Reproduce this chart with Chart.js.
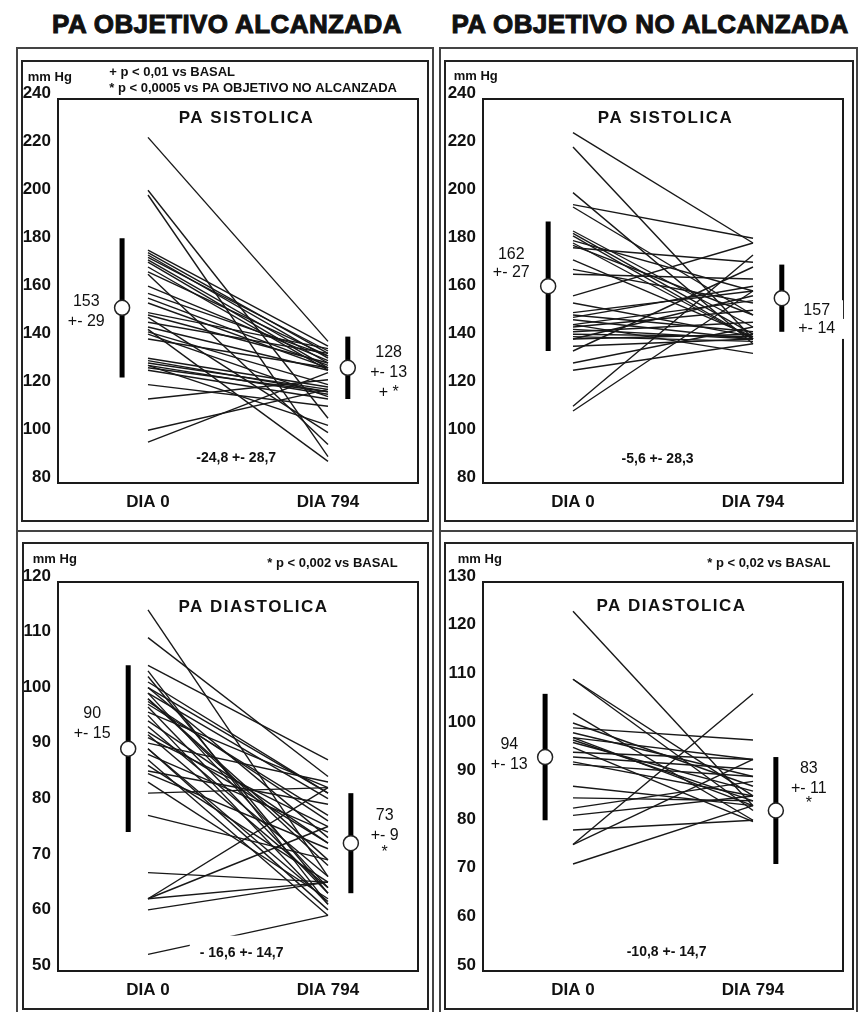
<!DOCTYPE html>
<html>
<head>
<meta charset="utf-8">
<script src="https://cdn.jsdelivr.net/npm/chart.js@4"></script>
<style>
  body { margin: 0; background: #fff; width: 862px; height: 1012px; position: relative; overflow: hidden;
         font-family: "Liberation Sans", Arial, sans-serif; }
  .head { position: absolute; top: 9px; font-weight: bold; font-size: 26px; line-height: 30px; color: #111;
          letter-spacing: 0.4px; -webkit-text-stroke: 1px #111; white-space: nowrap; transform: translateX(-50%); }
  .outer { position: absolute; box-sizing: border-box; border: 2px solid #444; }
  .inner { position: absolute; box-sizing: border-box; border: 2px solid #222; }
  canvas { display: block; }
</style>
</head>
<body>
<div class="head" style="left:227px">PA OBJETIVO ALCANZADA</div>
<div class="head" style="left:650px">PA OBJETIVO NO ALCANZADA</div>

<div class="outer" style="left:16px;top:47px;width:418px;height:485px"></div>
<div class="outer" style="left:16px;top:530px;width:418px;height:490px"></div>
<div class="outer" style="left:439px;top:47px;width:419px;height:485px"></div>
<div class="outer" style="left:439px;top:530px;width:419px;height:490px"></div>

<div class="inner" style="left:21px;top:60px;width:408px;height:462px"><canvas id="c1" width="404" height="458"></canvas></div>
<div class="inner" style="left:444px;top:60px;width:410px;height:462px"><canvas id="c2" width="406" height="458"></canvas></div>
<div class="inner" style="left:22px;top:542px;width:407px;height:468px"><canvas id="c3" width="403" height="464"></canvas></div>
<div class="inner" style="left:444px;top:542px;width:410px;height:468px"><canvas id="c4" width="406" height="464"></canvas></div>

<script>
// tick labels
var dayLabels = ["DIA 0", "DIA 794"];
var sysTicks = [240, 220, 200, 180, 160, 140, 120, 100, 80];
var diaOkTicks = [120, 110, 100, 90, 80, 70, 60, 50];
var diaNoTicks = [130, 120, 110, 100, 90, 80, 70, 60, 50];

// PA sistolica, objetivo alcanzada (one value per patient)
var sysOkDia0 = [224, 202, 200, 177, 176, 175, 174, 173, 172, 170, 168, 167, 162, 159, 157, 155, 151, 150,
                 149, 147, 145, 144, 143, 140, 132, 131, 130, 129, 128, 127, 121, 115, 102, 97, 129, 142];
var sysOkDia794 = [139, 107, 91, 137, 134, 132, 135, 130, 128, 127, 133, 96, 131, 133, 129, 128, 136, 130,
                   101, 134, 127, 89, 121, 128, 120, 118, 119, 117, 118, 115, 112, 123, 119, 126, 104, 116];
var sysOkMean = [153, 128];
var sysOkSd = [29, 13];

// PA sistolica, objetivo no alcanzada
var sysNoDia0 = [226, 220, 201, 196, 195, 185, 184, 183, 181, 180, 179, 178, 173, 169, 167, 158, 151, 150,
                 149, 148, 146, 145, 144, 143, 142, 141, 140, 140, 137, 135, 130, 127, 112, 110, 146, 155];
var sysNoDia794 = [180, 140, 138, 182, 150, 145, 142, 140, 160, 140, 150, 172, 141, 155, 165, 180, 160, 143,
                   162, 140, 156, 152, 140, 147, 141, 139, 158, 142, 140, 170, 145, 138, 175, 160, 134, 141];
var sysNoMean = [162, 157];
var sysNoSd = [27, 14];

// PA diastolica, objetivo alcanzada
var diaOkDia0 = [115, 110, 105, 104, 102, 101, 100, 99, 98, 97.5, 96.6, 93, 92, 91, 90, 89, 87, 86, 85.5, 84,
                 82, 78, 67.7, 63, 63, 61, 53, 100, 96, 94, 98.5, 103, 92.5, 88, 101, 95, 99, 90, 63];
var diaOkDia794 = [67, 85, 88, 62, 82, 74, 65, 70, 78, 64, 83, 73, 76, 84, 61, 75, 66, 80, 72, 63,
                   83, 70, 66, 83, 76, 66, 60, 81, 62, 67, 77, 64, 65, 60, 82, 73, 69, 62.5, 66];
var diaOkMean = [90, 73];
var diaOkSd = [15, 9];

// PA diastolica, objetivo no alcanzada
var diaNoDia0 = [124, 110, 110, 103, 101, 100, 99, 98, 97.5, 97, 98, 95, 94, 93, 88, 85.6, 83.5, 82, 79, 76, 76, 72, 96, 92.5];
var diaNoDia794 = [84, 86, 83, 81, 88, 97.5, 90, 84, 85, 87, 93.5, 93.5, 91.5, 86, 84, 85, 89, 86, 81, 107, 93.5, 84, 80.7, 90];
var diaNoMean = [94, 83];
var diaNoSd = [13, 11];

var FONT = '"Liberation Sans", Arial, sans-serif';

// box around the plot area + text notes placed in data units
Chart.register({
  id: "boxNotes",
  beforeDatasetsDraw: function (chart) {
    var a = chart.chartArea, ctx = chart.ctx;
    ctx.save();
    ctx.lineWidth = 2;
    ctx.strokeStyle = "#1a1a1a";
    ctx.strokeRect(a.left, a.top, a.right - a.left, a.bottom - a.top);
    ctx.restore();
  },
  afterDraw: function (chart, args, opts) {
    var ctx = chart.ctx, xs = chart.scales.x, ys = chart.scales.y;
    (opts.items || []).forEach(function (n) {
      var px = xs.getPixelForValue(n.x), py = ys.getPixelForValue(n.y);
      ctx.save();
      ctx.font = n.font || "15px " + FONT;
      if (n.spacing && "letterSpacing" in ctx) ctx.letterSpacing = n.spacing;
      ctx.textAlign = n.align || "center";
      ctx.textBaseline = "middle";
      if (n.bg) {
        var w = ctx.measureText(n.t).width;
        ctx.fillStyle = "#fff";
        ctx.fillRect(px - w / 2 - n.bg[0], py - n.bg[1], w + 2 * n.bg[0], 2 * n.bg[1]);
      }
      ctx.fillStyle = "#111";
      ctx.fillText(n.t, px, py);
      ctx.restore();
    });
  }
});

function makePanel(p) {
  var sets = [];
  for (var i = 0; i < p.d0.length; i++) {
    sets.push({
      data: [{ x: 0, y: p.d0[i] }, { x: 1, y: p.d1[i] }],
      borderColor: "#181818", borderWidth: 1.4, pointRadius: 0, order: 3
    });
  }
  for (var k = 0; k < 2; k++) {
    var mx = p.markX[k];
    sets.push({
      data: [{ x: mx, y: p.mean[k] - p.sd[k] }, { x: mx, y: p.mean[k] + p.sd[k] }],
      borderColor: "#000", borderWidth: 5, borderCapStyle: "butt", pointRadius: 0, order: 2
    });
    sets.push({
      data: [{ x: mx, y: p.mean[k] }], showLine: false,
      pointRadius: 7.5, pointBackgroundColor: "#fff", pointBorderColor: "#222", pointBorderWidth: 1.5, order: 1
    });
  }
  var ticks = p.ticks;
  new Chart(document.getElementById(p.id), {
    type: "line",
    data: { datasets: sets },
    options: {
      responsive: false,
      animation: false,
      events: [],
      layout: { padding: { top: p.padTop, right: p.padRight, left: 0, bottom: 0 } },
      plugins: { legend: { display: false }, tooltip: { enabled: false }, boxNotes: { items: p.notes } },
      scales: {
        x: {
          type: "linear", min: -0.5, max: 1.5,
          afterBuildTicks: function (s) { s.ticks = [{ value: 0 }, { value: 1 }]; },
          afterFit: function (s) { s.height = p.xH; },
          grid: { display: false, drawTicks: false }, border: { display: false },
          ticks: {
            padding: 9, color: "#111", maxRotation: 0,
            font: { family: FONT, size: 17, weight: "bold" },
            callback: function (v) { return dayLabels[v]; }
          }
        },
        y: {
          type: "linear", min: ticks[ticks.length - 1], max: ticks[0],
          afterBuildTicks: function (s) { s.ticks = ticks.map(function (v) { return { value: v }; }); },
          afterFit: function (s) { s.width = p.yW; },
          grid: { display: false, drawTicks: false }, border: { display: false },
          ticks: {
            padding: 7, color: "#111",
            font: { family: FONT, size: 17, weight: "bold", lineHeight: 0.7 },
            callback: function (v) { return [String(v), ""]; }
          }
        }
      }
    }
  });
}

var small = "bold 13px " + FONT;
var title = "bold 17px " + FONT;
var meanF = "16px " + FONT;
var diffF = "bold 14px " + FONT;

makePanel({
  id: "c1", d0: sysOkDia0, d1: sysOkDia794, mean: sysOkMean, sd: sysOkSd, ticks: sysTicks,
  markX: [-0.144, 1.11], padTop: 37, padRight: 6, yW: 35, xH: 37,
  notes: [
    { t: "PA SISTOLICA", x: 0.547, y: 232, font: title, spacing: "1.5px" },
    { t: "mm Hg", x: -0.668, y: 248.8, font: small, align: "left" },
    { t: "+ p < 0,01 vs BASAL", x: -0.215, y: 251.2, font: small, align: "left" },
    { t: "* p < 0,0005 vs PA OBJETIVO NO ALCANZADA", x: -0.215, y: 244.2, font: small, align: "left" },
    { t: "153", x: -0.343, y: 155.4, font: meanF },
    { t: "+- 29", x: -0.343, y: 147.1, font: meanF },
    { t: "128", x: 1.337, y: 134.2, font: meanF },
    { t: "+- 13", x: 1.337, y: 125.8, font: meanF },
    { t: "+ *", x: 1.337, y: 117.5, font: meanF },
    { t: "-24,8 +- 28,7", x: 0.49, y: 90.4, font: diffF }
  ]
});

makePanel({
  id: "c2", d0: sysNoDia0, d1: sysNoDia794, mean: sysNoMean, sd: sysNoSd, ticks: sysTicks,
  markX: [-0.138, 1.16], padTop: 37, padRight: 6, yW: 37, xH: 37,
  notes: [
    { t: "PA SISTOLICA", x: 0.514, y: 232, font: title, spacing: "1.5px" },
    { t: "mm Hg", x: -0.663, y: 249.2, font: small, align: "left" },
    { t: "162", x: -0.343, y: 175, font: meanF },
    { t: "+- 27", x: -0.343, y: 167.5, font: meanF },
    { t: "157", x: 1.354, y: 152, font: meanF, bg: [13, 10] },
    { t: "+- 14", x: 1.354, y: 144.2, font: meanF, bg: [13, 10] },
    { t: "-5,6 +- 28,3", x: 0.47, y: 90, font: diffF }
  ]
});

makePanel({
  id: "c3", d0: diaOkDia0, d1: diaOkDia794, mean: diaOkMean, sd: diaOkSd, ticks: diaOkTicks,
  markX: [-0.11, 1.127], padTop: 38, padRight: 5, yW: 34, xH: 37,
  notes: [
    { t: "PA DIASTOLICA", x: 0.586, y: 115.5, font: title, spacing: "1.5px" },
    { t: "mm Hg", x: -0.64, y: 124.1, font: small, align: "left" },
    { t: "* p < 0,002 vs BASAL", x: 1.387, y: 123.4, font: small, align: "right" },
    { t: "90", x: -0.31, y: 96.4, font: meanF },
    { t: "+- 15", x: -0.31, y: 92.8, font: meanF },
    { t: "73", x: 1.315, y: 78, font: meanF },
    { t: "+- 9", x: 1.315, y: 74.4, font: meanF },
    { t: "*", x: 1.315, y: 71.3, font: meanF },
    { t: "- 16,6 +- 14,7", x: 0.52, y: 53.3, font: diffF, bg: [10, 17] }
  ]
});

makePanel({
  id: "c4", d0: diaNoDia0, d1: diaNoDia794, mean: diaNoMean, sd: diaNoSd, ticks: diaNoTicks,
  markX: [-0.155, 1.127], padTop: 38, padRight: 6, yW: 37, xH: 37,
  notes: [
    { t: "PA DIASTOLICA", x: 0.547, y: 125, font: title, spacing: "1.5px" },
    { t: "mm Hg", x: -0.64, y: 134.7, font: small, align: "left" },
    { t: "* p < 0,02 vs BASAL", x: 1.43, y: 133.9, font: small, align: "right" },
    { t: "94", x: -0.354, y: 96.5, font: meanF },
    { t: "+- 13", x: -0.354, y: 92.4, font: meanF },
    { t: "83", x: 1.31, y: 91.7, font: meanF },
    { t: "+- 11", x: 1.31, y: 87.6, font: meanF },
    { t: "*", x: 1.31, y: 84.5, font: meanF },
    { t: "-10,8 +- 14,7", x: 0.52, y: 53.9, font: diffF }
  ]
});
</script>
</body>
</html>
